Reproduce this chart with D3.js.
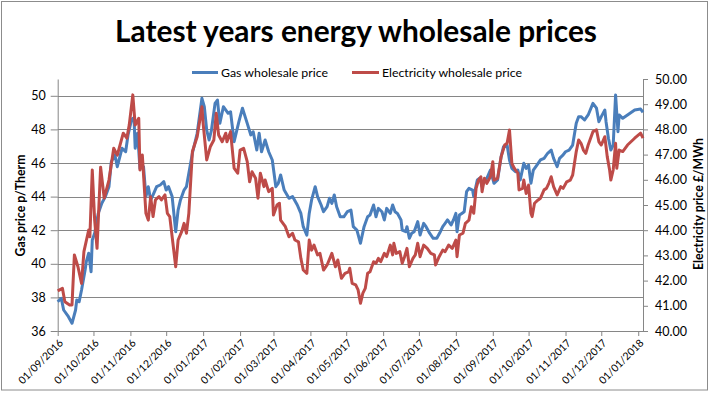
<!DOCTYPE html>
<html><head><meta charset="utf-8">
<script src="https://cdn.jsdelivr.net/npm/d3@7"></script>
<style>
body{margin:0;background:#fff}
svg{display:block}
text{font-family:Lato,"Open Sans",sans-serif;fill:#000}
</style>
</head><body>
<svg id="c" width="712" height="394"></svg>
<script>
// ---------------- DATA ----------------
const chartTitle = "Latest years energy wholesale prices";
const seriesNames = ["Gas wholesale price", "Electricity wholesale price"];
const gasAxisTitle = "Gas price p/Therm";
const elecAxisTitle = "Electricity price £/MWh";

const xDomain = ["2016-09-01", "2018-01-05"];
const gasDomain = [36, 51];
const elecDomain = [40, 50];
const gasTicks = [36, 38, 40, 42, 44, 46, 48, 50];
const elecTicks = [40, 41, 42, 43, 44, 45, 46, 47, 48, 49, 50];
const monthTicks = ["2016-09-01","2016-10-01","2016-11-01","2016-12-01","2017-01-01","2017-02-01",
  "2017-03-01","2017-04-01","2017-05-01","2017-06-01","2017-07-01","2017-08-01","2017-09-01",
  "2017-10-01","2017-11-01","2017-12-01","2018-01-01"];

const gasDates = [
 "2016-09-01","2016-09-04","2016-09-06","2016-09-10","2016-09-13","2016-09-16","2016-09-17","2016-09-19","2016-09-21","2016-09-24","2016-09-25","2016-09-27","2016-09-29","2016-09-30",
 "2016-10-02","2016-10-05","2016-10-08","2016-10-11","2016-10-14","2016-10-16","2016-10-19","2016-10-21","2016-10-25","2016-10-28","2016-10-30",
 "2016-11-02","2016-11-04","2016-11-05","2016-11-07","2016-11-09","2016-11-12","2016-11-14","2016-11-16","2016-11-18","2016-11-20","2016-11-23","2016-11-26","2016-11-29",
 "2016-12-01","2016-12-03","2016-12-06","2016-12-09","2016-12-11","2016-12-13","2016-12-16","2016-12-18","2016-12-23","2016-12-27","2016-12-31",
 "2017-01-02","2017-01-04","2017-01-06","2017-01-08","2017-01-11","2017-01-13","2017-01-15","2017-01-18","2017-01-22","2017-01-24","2017-01-27","2017-01-31",
 "2017-02-03","2017-02-07","2017-02-10","2017-02-12","2017-02-15","2017-02-17","2017-02-19","2017-02-22","2017-02-25","2017-02-28",
 "2017-03-03","2017-03-05","2017-03-07","2017-03-10","2017-03-14","2017-03-17","2017-03-21","2017-03-24","2017-03-26","2017-03-29","2017-03-31",
 "2017-04-02","2017-04-05","2017-04-07","2017-04-10","2017-04-12","2017-04-15","2017-04-17","2017-04-19","2017-04-21","2017-04-23","2017-04-26","2017-04-29",
 "2017-05-02","2017-05-05","2017-05-07","2017-05-10","2017-05-13","2017-05-16","2017-05-19","2017-05-21","2017-05-24","2017-05-26","2017-05-28","2017-05-31",
 "2017-06-02","2017-06-04","2017-06-07","2017-06-09","2017-06-11","2017-06-13","2017-06-16","2017-06-17","2017-06-20","2017-06-21","2017-06-23","2017-06-25","2017-06-27","2017-06-30",
 "2017-07-02","2017-07-05","2017-07-07","2017-07-10","2017-07-13","2017-07-16","2017-07-19","2017-07-21","2017-07-23","2017-07-25","2017-07-28","2017-07-30",
 "2017-08-01","2017-08-02","2017-08-04","2017-08-06","2017-08-08","2017-08-10","2017-08-12","2017-08-15","2017-08-16","2017-08-19","2017-08-21","2017-08-23","2017-08-25","2017-08-27","2017-08-30",
 "2017-09-02","2017-09-05","2017-09-08","2017-09-10","2017-09-13","2017-09-15","2017-09-17","2017-09-20","2017-09-22","2017-09-24","2017-09-27","2017-09-29",
 "2017-10-01","2017-10-03","2017-10-05","2017-10-08","2017-10-11","2017-10-14","2017-10-17","2017-10-20","2017-10-22","2017-10-25","2017-10-27","2017-10-30",
 "2017-11-01","2017-11-04","2017-11-07","2017-11-10","2017-11-12","2017-11-14","2017-11-17","2017-11-20","2017-11-24","2017-11-27","2017-11-29",
 "2017-12-01","2017-12-04","2017-12-05","2017-12-07","2017-12-09","2017-12-11","2017-12-13","2017-12-15","2017-12-16","2017-12-19","2017-12-23","2017-12-29",
 "2018-01-03","2018-01-05"];
const gasPrices = [
 37.74,37.95,37.25,36.85,36.46,37.25,37.85,37.74,38.44,39.63,40.13,40.63,39.53,41.42,
 41.82,43.00,43.60,44.00,44.59,46.08,46.48,45.78,46.88,46.67,47.67,
 48.60,48.70,46.88,47.77,45.68,45.78,44.00,44.59,43.80,44.10,44.59,44.69,44.89,
 44.39,44.59,44.00,41.91,43.20,43.80,44.39,44.59,46.58,47.77,49.85,
 49.35,47.96,47.37,47.96,49.55,49.75,48.36,49.35,48.96,49.05,47.27,48.46,
 49.26,48.36,47.67,47.86,46.77,47.77,46.67,47.37,46.67,46.18,
 44.59,44.79,45.29,44.39,43.90,44.00,43.50,43.00,42.21,41.71,43.00,
 43.80,44.59,44.00,43.50,43.10,43.40,43.90,43.60,44.10,43.40,42.80,42.80,
 43.10,43.20,42.21,42.01,41.22,42.21,42.80,42.90,43.50,42.80,43.30,43.10,
 42.61,43.30,43.00,43.50,43.10,43.00,42.61,42.01,41.91,42.21,41.52,41.82,41.91,42.51,
 41.71,42.41,42.21,41.82,41.52,41.52,41.91,42.21,42.41,42.61,42.31,42.61,
 43.00,41.91,42.90,43.00,43.10,44.29,44.49,44.39,44.00,44.99,45.09,44.59,44.99,45.09,45.58,
 44.79,44.99,46.38,46.97,47.07,46.18,45.68,45.48,45.58,44.99,45.98,45.68,
 45.88,44.79,45.58,45.88,46.18,46.28,46.58,46.77,46.28,45.78,46.28,46.48,
 46.67,46.77,47.07,48.36,48.76,48.76,48.56,48.86,49.55,49.26,48.46,
 48.76,49.15,48.46,47.47,46.77,47.07,50.05,47.86,48.86,48.66,48.86,49.15,
 49.21,49.02];

const elecDates = [
 "2016-09-01","2016-09-05","2016-09-07","2016-09-11","2016-09-13","2016-09-15","2016-09-18","2016-09-21","2016-09-23","2016-09-27","2016-09-28","2016-09-30",
 "2016-10-02","2016-10-04","2016-10-07","2016-10-10","2016-10-14","2016-10-18","2016-10-21","2016-10-26","2016-10-29","2016-10-31",
 "2016-11-03","2016-11-05","2016-11-08","2016-11-09","2016-11-11","2016-11-14","2016-11-16","2016-11-18","2016-11-20","2016-11-22","2016-11-25","2016-11-27","2016-11-30",
 "2016-12-02","2016-12-04","2016-12-09","2016-12-11","2016-12-14","2016-12-16","2016-12-18","2016-12-20","2016-12-23","2016-12-27","2016-12-31",
 "2017-01-01","2017-01-04","2017-01-07","2017-01-10","2017-01-12","2017-01-14","2017-01-17","2017-01-20","2017-01-21","2017-01-24","2017-01-27","2017-01-30",
 "2017-02-01","2017-02-04","2017-02-07","2017-02-09","2017-02-11","2017-02-14","2017-02-16","2017-02-18","2017-02-21","2017-02-22","2017-02-25","2017-02-28",
 "2017-03-01","2017-03-04","2017-03-06","2017-03-07","2017-03-11","2017-03-14","2017-03-17","2017-03-19","2017-03-22","2017-03-24","2017-03-26","2017-03-29","2017-03-31",
 "2017-04-02","2017-04-04","2017-04-07","2017-04-09","2017-04-12","2017-04-15","2017-04-19","2017-04-22","2017-04-24","2017-04-27","2017-04-30",
 "2017-05-03","2017-05-04","2017-05-06","2017-05-09","2017-05-11","2017-05-13","2017-05-15","2017-05-17","2017-05-19","2017-05-21","2017-05-24","2017-05-26","2017-05-28","2017-05-30",
 "2017-06-02","2017-06-04","2017-06-07","2017-06-09","2017-06-10","2017-06-12","2017-06-15","2017-06-17","2017-06-19","2017-06-21","2017-06-23","2017-06-26","2017-06-28","2017-06-30",
 "2017-07-02","2017-07-05","2017-07-08","2017-07-11","2017-07-14","2017-07-15","2017-07-18","2017-07-21","2017-07-23","2017-07-26","2017-07-29",
 "2017-08-01","2017-08-02","2017-08-04","2017-08-07","2017-08-09","2017-08-12","2017-08-14","2017-08-16","2017-08-18","2017-08-20","2017-08-22","2017-08-23","2017-08-25","2017-08-27","2017-08-30",
 "2017-09-01","2017-09-02","2017-09-05","2017-09-08","2017-09-11","2017-09-13","2017-09-15","2017-09-17","2017-09-19","2017-09-22","2017-09-23","2017-09-26","2017-09-27","2017-09-29",
 "2017-10-01","2017-10-03","2017-10-04","2017-10-06","2017-10-09","2017-10-11","2017-10-14","2017-10-16","2017-10-18","2017-10-20","2017-10-22","2017-10-25","2017-10-28","2017-10-30",
 "2017-11-02","2017-11-05","2017-11-07","2017-11-10","2017-11-12","2017-11-14","2017-11-16","2017-11-18","2017-11-20","2017-11-24","2017-11-27","2017-11-29",
 "2017-12-01","2017-12-04","2017-12-06","2017-12-08","2017-12-09","2017-12-11","2017-12-13","2017-12-14","2017-12-16","2017-12-19","2017-12-23","2017-12-29",
 "2018-01-03","2018-01-05"];
const elecPrices = [
 41.59,41.69,41.16,41.03,41.03,43.02,42.55,41.89,43.15,44.01,43.74,46.39,
 44.40,43.28,46.50,45.27,45.99,47.25,46.98,47.85,47.65,48.17,
 49.37,48.17,48.44,46.39,46.98,44.67,44.40,45.33,44.54,45.20,45.33,45.20,45.40,
 44.67,44.54,42.55,43.61,43.94,44.27,43.88,44.67,47.12,47.71,48.90,
 48.24,46.79,47.31,47.58,48.64,47.78,47.51,47.85,47.51,47.91,46.46,46.26,
 47.18,47.25,46.72,45.92,46.32,46.06,45.27,46.26,45.73,45.99,45.53,45.66,
 44.60,45.00,45.07,44.40,44.14,43.74,43.88,43.61,43.54,42.88,42.42,42.29,43.61,
 43.21,43.41,43.02,43.08,42.42,42.62,43.08,42.55,42.82,42.09,42.29,
 42.35,42.49,41.89,41.83,41.63,41.10,41.50,41.69,42.29,42.35,42.75,42.69,42.88,42.75,
 43.08,42.95,43.41,43.02,43.48,43.08,43.15,42.69,42.95,43.28,42.55,42.88,43.02,43.48,
 42.95,43.41,43.28,43.08,43.02,42.62,42.95,43.21,43.15,43.41,43.28,
 43.61,42.95,43.81,43.88,44.27,44.40,44.93,44.67,45.66,45.99,46.12,45.53,46.06,45.86,46.12,
 46.72,45.99,46.06,46.92,47.38,47.45,47.98,46.65,46.46,46.26,45.60,45.66,45.99,45.46,
 45.79,44.67,44.54,45.07,45.20,45.27,45.60,45.66,45.86,46.12,45.73,45.40,45.73,45.66,
 45.92,45.99,46.19,47.12,47.58,47.45,47.18,47.05,47.38,47.91,47.98,47.51,
 47.38,47.71,46.92,46.39,45.99,46.39,47.45,46.46,47.18,47.12,47.38,47.65,
 47.85,47.65];

// ---------------- CHART ----------------
const parse = d3.timeParse("%Y-%m-%d");
const svg = d3.select("#c");
const gasColor = "#4a7ebb", elecColor = "#be4b48", axisColor = "#868686";
const plot = {left: 57.7, right: 643, top: 79, bottom: 331};

const x = d3.scaleTime().domain(xDomain.map(parse)).range([plot.left, plot.right]);
const yGas = d3.scaleLinear().domain(gasDomain).range([plot.bottom, plot.top]);
const yElec = d3.scaleLinear().domain(elecDomain).range([plot.bottom, plot.top]);

function fit(sel, w) {
  const cur = parseFloat(sel.attr("font-size"));
  const len = sel.node().getComputedTextLength();
  sel.attr("font-size", (cur * w / len).toFixed(2));
}

// outer border
svg.append("rect").attr("x", 1.5).attr("y", 1.5).attr("width", 706).attr("height", 388.5)
  .attr("fill", "#fff").attr("stroke", "#8c8c8c").attr("stroke-width", 1);

// gridlines
svg.append("g").selectAll("line").data(gasTicks).join("line")
  .attr("x1", plot.left).attr("x2", plot.right)
  .attr("y1", d => Math.round(yGas(d)) + 0.5).attr("y2", d => Math.round(yGas(d)) + 0.5)
  .attr("stroke", axisColor).attr("stroke-width", 1);

// axes
const gL = svg.append("g").attr("transform", `translate(${plot.left},0)`)
  .call(d3.axisLeft(yGas).tickValues(gasTicks).tickFormat(d3.format("d")).tickSize(7).tickSizeOuter(0).tickPadding(5));
const gR = svg.append("g").attr("transform", `translate(${plot.right},0)`)
  .call(d3.axisRight(yElec).tickValues(elecTicks).tickFormat(d3.format(".2f")).tickSize(5).tickSizeOuter(0).tickPadding(7));
const gB = svg.append("g").attr("transform", `translate(0,${plot.bottom})`)
  .call(d3.axisBottom(x).tickValues(monthTicks.map(parse)).tickFormat(d3.timeFormat("%d/%m/%Y")).tickSize(5).tickSizeOuter(0));

[gL, gR, gB].forEach(g => {
  g.selectAll(".domain,.tick line").attr("stroke", axisColor);
  g.selectAll("text").attr("font-family", "Lato, sans-serif").attr("fill", "#000");
});
gL.selectAll("text").attr("font-size", 12.5);
gR.selectAll("text").attr("font-size", 12.5);
gB.selectAll("text").attr("font-size", 10.5)
  .attr("text-anchor", "end").attr("x", 0).attr("y", 0).attr("dy", "0.35em")
  .attr("transform", "translate(3,10) rotate(-45)");

// lines
const lineG = d3.line().x(d => x(d.date)).y(d => yGas(d.v));
const lineE = d3.line().x(d => x(d.date)).y(d => yElec(d.v));
const gasData = gasDates.map((d, i) => ({date: parse(d), v: gasPrices[i]}));
const elecData = elecDates.map((d, i) => ({date: parse(d), v: elecPrices[i]}));
svg.append("path").datum(gasData).attr("d", lineG).attr("fill", "none")
  .attr("stroke", gasColor).attr("stroke-width", 3).attr("stroke-linejoin", "round");
svg.append("path").datum(elecData).attr("d", lineE).attr("fill", "none")
  .attr("stroke", elecColor).attr("stroke-width", 3).attr("stroke-linejoin", "round");

// title
const t = svg.append("text").attr("x", 356).attr("y", 41.5).attr("text-anchor", "middle")
  .attr("font-weight", "bold").attr("font-size", 28).text(chartTitle);
fit(t, 482);

// legend
const legend = [
  {name: seriesNames[0], color: gasColor, x0: 192, x1: 218, tx: 221, w: 107},
  {name: seriesNames[1], color: elecColor, x0: 352, x1: 379, tx: 382, w: 140}
];
legend.forEach(l => {
  svg.append("line").attr("x1", l.x0).attr("x2", l.x1).attr("y1", 72.5).attr("y2", 72.5)
    .attr("stroke", l.color).attr("stroke-width", 3);
  const lt = svg.append("text").attr("x", l.tx).attr("y", 77).attr("font-size", 12).text(l.name);
  fit(lt, l.w);
});

// axis titles
const at1 = svg.append("text").attr("transform", "translate(25,205.5) rotate(-90)")
  .attr("text-anchor", "middle").attr("font-weight", "bold").attr("font-size", 12).text(gasAxisTitle);
fit(at1, 102);
const at2 = svg.append("text").attr("transform", "translate(703,204) rotate(-90)")
  .attr("text-anchor", "middle").attr("font-weight", "bold").attr("font-size", 12).text(elecAxisTitle);
fit(at2, 132);
</script>
</body></html>
